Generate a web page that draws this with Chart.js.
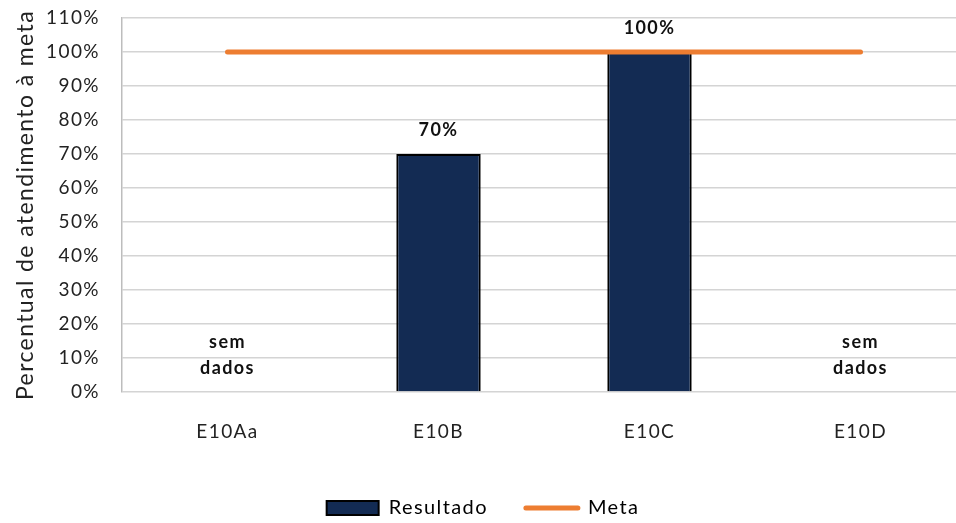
<!DOCTYPE html>
<html>
<head>
<meta charset="utf-8">
<script src="https://cdn.jsdelivr.net/npm/chart.js@4/dist/chart.umd.min.js"></script>
<style>
  html, body { margin: 0; padding: 0; background: #fff; overflow: hidden; width: 956px; height: 523px; }
  canvas { display: block; }
</style>
</head>
<body>
<canvas id="grafico" width="966" height="523"></canvas>
<script>
var categorias = ['E10Aa', 'E10B', 'E10C', 'E10D'];
var resultado = [null, 70, 100, null]; // null = sem dados
var meta = [100, 100, 100, 100];
var yTicks = [0, 10, 20, 30, 40, 50, 60, 70, 80, 90, 100, 110];

var fonte = 'Lato, "Noto Sans", sans-serif';

// espaçamento entre letras, parecido com o original
var espaco = {
    id: 'espaco',
    beforeUpdate: function (chart) { chart.ctx.letterSpacing = '1.4px'; },
    beforeDraw: function (chart) { chart.ctx.letterSpacing = '1.4px'; }
};

// rótulos em cima das barras e "sem dados"
var rotulos = {
    id: 'rotulos',
    afterDatasetsDraw: function (chart) {
        var ctx = chart.ctx;
        var meta0 = chart.getDatasetMeta(0);
        var y = chart.scales.y;
        ctx.save();
        ctx.fillStyle = '#111';
        ctx.font = 'bold 18px ' + fonte;
        ctx.textAlign = 'center';
        ctx.textBaseline = 'middle';
        resultado.forEach(function (v, i) {
            var x = chart.scales.x.getPixelForValue(i);
            if (v === null) {
                var base = y.getPixelForValue(0);
                ctx.fillText('sem', x, base - 50);
                ctx.fillText('dados', x, base - 24);
            } else {
                ctx.fillText(v + '%', x, meta0.data[i].y - 24);
            }
        });
        ctx.restore();
    }
};

var ctx = document.getElementById('grafico');
var myChart = new Chart(ctx, {
    data: {
        labels: categorias,
        datasets: [{
            type: 'bar',
            label: 'Resultado',
            data: resultado,
            backgroundColor: '#132B53',
            borderColor: '#000',
            borderWidth: 2,
            barPercentage: 0.4,
            categoryPercentage: 1,
            order: 1
        }, {
            type: 'line',
            label: 'Meta',
            data: meta,
            borderColor: '#ED7D31',
            borderWidth: 5,
            borderCapStyle: 'round',
            pointRadius: 0,
            fill: false,
            order: 0
        }]
    },
    options: {
        responsive: false,
        animation: false,
        layout: { padding: { top: 18, right: 0, bottom: -5, left: 0 } },
        scales: {
            x: {
                grid: { display: false },
                border: { display: false },
                ticks: { color: '#222', font: { family: fonte, size: 19 }, padding: 20 },
                afterFit: function (s) { s.height = 68; }
            },
            y: {
                min: 0,
                max: 110,
                afterBuildTicks: function (s) { s.ticks = yTicks.map(function (v) { return { value: v }; }); },
                grid: { color: '#d4d4d4', lineWidth: 1.5, drawTicks: false },
                border: { color: '#bdbdbd', width: 1.5 },
                ticks: {
                    color: '#222',
                    font: { family: fonte, size: 19 },
                    padding: 22,
                    callback: function (v) { return v + '%'; }
                },
                title: {
                    display: true,
                    text: 'Percentual de atendimento à meta',
                    color: '#222',
                    font: { family: fonte, size: 23 },
                    padding: { top: 12, bottom: 0 }
                },
                afterFit: function (s) {
                    s.width = 122;
                    s.paddingTop = 0;
                    s.paddingBottom = 0;
                }
            }
        },
        plugins: {
            legend: {
                position: 'bottom',
                labels: {
                    color: '#222',
                    font: { family: fonte, size: 20 },
                    usePointStyle: true,
                    pointStyleWidth: 52,
                    boxHeight: 14,
                    padding: 38,
                    generateLabels: function () {
                        return [{
                            text: 'Resultado',
                            pointStyle: 'rect',
                            fillStyle: '#132B53',
                            strokeStyle: '#000',
                            lineWidth: 2,
                            datasetIndex: 0
                        }, {
                            text: 'Meta',
                            pointStyle: 'line',
                            fillStyle: '#ED7D31',
                            strokeStyle: '#ED7D31',
                            lineWidth: 5,
                            lineCap: 'round',
                            datasetIndex: 1
                        }];
                    }
                }
            },
            tooltip: { enabled: false }
        }
    },
    plugins: [espaco, rotulos]
});
</script>
</body>
</html>
